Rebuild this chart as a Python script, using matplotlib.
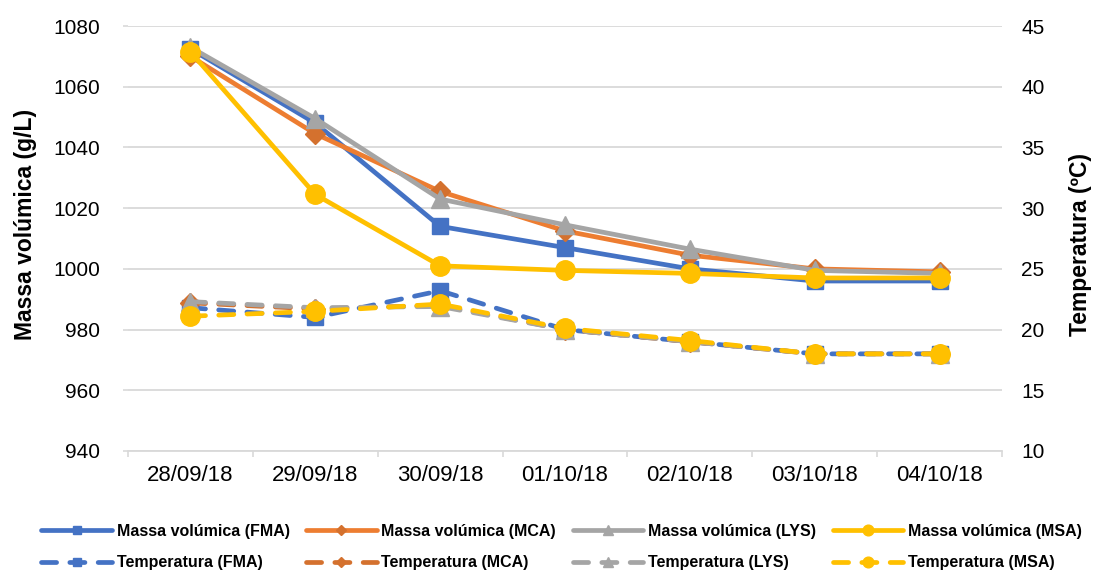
import matplotlib.pyplot as plt
from matplotlib.ticker import FixedLocator

plt.rcParams['font.family'] = ['Liberation Sans', 'DejaVu Sans']

dates = ['28/09/18', '29/09/18', '30/09/18', '01/10/18', '02/10/18', '03/10/18', '04/10/18']

# density (g/L)
dens_fma = [1072.5, 1048, 1014, 1007, 1000, 996, 996]
dens_mca = [1070, 1044.5, 1025.5, 1012.5, 1004.5, 1000, 999]
dens_lys = [1073, 1049.5, 1023, 1014.5, 1006.5, 999.5, 998.5]
dens_msa = [1071.5, 1024.5, 1001, 999.5, 998.5, 997, 997]

# temperature (ºC)
temp_fma = [21.8, 21.0, 23.2, 20.0, 19.0, 18.0, 18.0]
temp_mca = [22.2, 21.7, 22.0, 20.0, 19.0, 18.0, 18.0]
temp_lys = [22.3, 21.8, 21.9, 20.0, 19.0, 18.0, 18.0]
temp_msa = [21.1, 21.5, 22.1, 20.1, 19.1, 18.0, 18.0]

names = ['FMA', 'MCA', 'LYS', 'MSA']
colors = ['#4472C4', '#ED7D31', '#A5A5A5', '#FFC000']
mcolors = ['#4472C4', '#D4712E', '#A5A5A5', '#FFC000']
tcolors = ['#4472C4', '#D4712E', '#A5A5A5', '#FFC000']
markers = ['s', 'D', '^', 'o']
msizes = [11.5, 10, 12.5, 14]

x = list(range(len(dates)))

fig = plt.figure(figsize=(10.97, 5.74), dpi=100)
ax = fig.add_axes([128 / 1097, 1 - 451 / 574, 874 / 1097, 425 / 574])
ax2 = ax.twinx()

dens = [dens_fma, dens_mca, dens_lys, dens_msa]
temp = [temp_fma, temp_mca, temp_lys, temp_msa]

handles = []
for i in range(4):
    h, = ax.plot(x, dens[i], color=colors[i], lw=3.4, marker=markers[i],
                 ms=msizes[i], mfc=mcolors[i], mec=mcolors[i],
                 solid_capstyle='round', solid_joinstyle='round',
                 label='Massa volúmica (%s)' % names[i], zorder=3 + i)
    handles.append(h)

thandles = []
for i in range(4):
    h, = ax2.plot(x, temp[i], color=tcolors[i], lw=3.4, ls=(0, (3.2, 2.8)),
                  dash_capstyle='round', marker=markers[i], ms=msizes[i],
                  mfc=mcolors[i], mec=mcolors[i],
                  label='Temperatura (%s)' % names[i], zorder=3 + i)
    thandles.append(h)

ax.set_xlim(-0.5, 6.5)
ax.set_ylim(940, 1080)
ax.set_yticks(range(940, 1081, 20))
ax2.set_ylim(10, 45)
ax2.set_yticks(range(10, 46, 5))

ax.set_xticks(x)
ax.set_xticklabels(dates)
ax.xaxis.set_minor_locator(FixedLocator([i - 0.5 for i in range(8)]))
ax.tick_params(axis='x', which='major', length=0, pad=10, labelsize=16)
ax.tick_params(axis='x', which='minor', length=4.5, width=1.2, color='#D9D9D9')
ax.tick_params(axis='y', length=3.5, width=1.2, color='#D9D9D9', pad=16.5,
               labelsize=15)
ax2.tick_params(axis='y', length=0, pad=14, labelsize=15)

ax.grid(axis='y', color='#D9D9D9', lw=1.3)
ax.set_axisbelow(True)
for a in (ax, ax2):
    for s in ['top', 'left', 'right', 'bottom']:
        a.spines[s].set_visible(False)
ax.spines['bottom'].set_visible(True)
ax.spines['bottom'].set_color('#D9D9D9')
ax.spines['bottom'].set_linewidth(1.3)

ax.set_ylabel('Massa volúmica (g/L)', fontsize=16.5, fontweight='bold')
ax.yaxis.set_label_coords(-0.104, 0.534)
ax2.set_ylabel('Temperatura (ºC)', fontsize=16.5, fontweight='bold')
ax2.yaxis.set_label_coords(1.077, 0.487)

order = []
for i in range(4):
    order += [handles[i], thandles[i]]
fig.legend(handles=order, labels=[h.get_label() for h in order], ncol=4,
           loc='center', bbox_to_anchor=(0.5 + 13 / 1097, 1 - 547 / 574),
           frameon=False, prop={'size': 11.5, 'weight': 'bold'},
           handlelength=4.4, handletextpad=0.3, columnspacing=1.05,
           labelspacing=1.05, markerscale=0.55)

fig.savefig('out.png', dpi=100)
